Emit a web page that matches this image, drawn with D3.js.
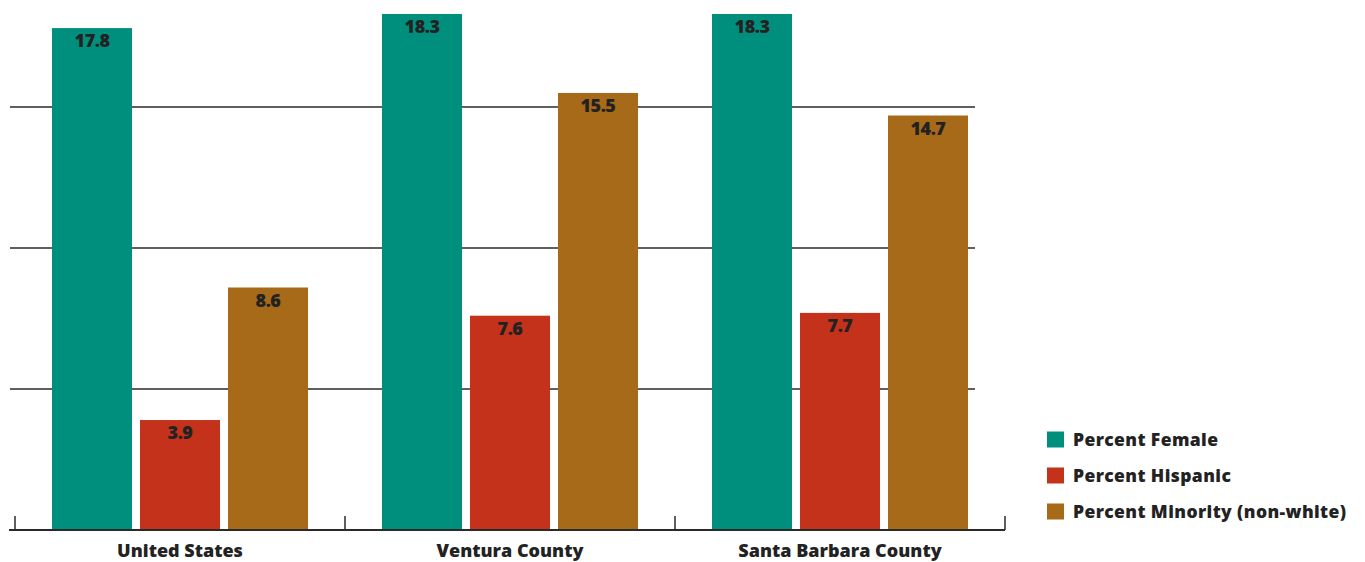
<!DOCTYPE html>
<html><head><meta charset="utf-8">
<script src="https://cdn.jsdelivr.net/npm/d3@7"></script>
<style>
html,body{margin:0;padding:0;background:#fff;}
svg{display:block;font-family:"Open Sans",Lato,sans-serif;}
</style></head>
<body>
<svg id="chart" width="1365" height="562"></svg>
<script>
const categories = ["United States", "Ventura County", "Santa Barbara County"];
const seriesNames = ["Percent Female", "Percent Hispanic", "Percent Minority (non-white)"];
const female = [17.8, 18.3, 18.3];
const hispanic = [3.9, 7.6, 7.7];
const minority = [8.6, 15.5, 14.7];
const gridValues = [5, 10, 15];
const colors = ["#008F7D", "#C4321B", "#A66A18"];

const seriesValues = [female, hispanic, minority];
const svg = d3.select("#chart");

const y = d3.scaleLinear().domain([0, 18.3]).range([530, 14]);
const x0 = d3.scaleBand().domain(categories).range([15, 1005]).paddingInner(0).paddingOuter(0);
const x1 = d3.scaleBand().domain(seriesNames).range([37, 293]).paddingInner(0.0909);

// gridlines
svg.append("g").selectAll("line").data(gridValues).join("line")
  .attr("x1", 10).attr("x2", 975)
  .attr("y1", d => y(d)).attr("y2", d => y(d))
  .attr("stroke", "#2a2a2a").attr("stroke-width", 1.5);

// bars
const groups = svg.append("g").selectAll("g").data(categories).join("g")
  .attr("transform", d => `translate(${x0(d)},0)`);

groups.each(function(cat, ci) {
  const g = d3.select(this);
  const data = seriesNames.map((s, si) => ({s, si, v: seriesValues[si][ci]}));
  g.selectAll("rect").data(data).join("rect")
    .attr("x", d => x1(d.s)).attr("width", x1.bandwidth())
    .attr("y", d => y(d.v)).attr("height", d => y(0) - y(d.v))
    .attr("fill", d => colors[d.si]);
  g.selectAll("text").data(data).join("text")
    .attr("x", d => x1(d.s) + x1.bandwidth() / 2)
    .attr("y", d => y(d.v) + 19)
    .attr("text-anchor", "middle")
    .attr("font-size", 18).attr("font-weight", 800)
    .attr("letter-spacing", -0.5)
    .attr("fill", "#222")
    .text(d => d.v.toFixed(1));
});

// x axis
const axis = svg.append("g");
axis.append("line").attr("x1", 9).attr("x2", 1005).attr("y1", 530).attr("y2", 530)
  .attr("stroke", "#2a2a2a").attr("stroke-width", 2);
const tickPos = categories.map(c => x0(c)).concat([x0.range()[1]]);
axis.selectAll("line.tick").data(tickPos).join("line").attr("class", "tick")
  .attr("x1", d => d).attr("x2", d => d).attr("y1", 516).attr("y2", 530)
  .attr("stroke", "#2a2a2a").attr("stroke-width", 1.5);
axis.selectAll("text").data(categories).join("text")
  .attr("x", d => x0(d) + x0.bandwidth() / 2)
  .attr("y", 557).attr("text-anchor", "middle")
  .attr("font-size", 18).attr("font-weight", 800).attr("fill", "#222")
  .text(d => d);

// legend
const legend = svg.append("g").attr("transform", "translate(1047,0)");
const ly = [439.5, 475.5, 511.5];
seriesNames.forEach((s, i) => {
  legend.append("rect").attr("x", 0).attr("y", ly[i] - 8).attr("width", 17).attr("height", 16)
    .attr("fill", colors[i]);
  legend.append("text").attr("x", 26).attr("y", ly[i] + 6)
    .attr("font-size", 17.5).attr("font-weight", 800).attr("letter-spacing", 0.4)
    .attr("fill", "#222").text(s);
});
</script>
</body></html>
